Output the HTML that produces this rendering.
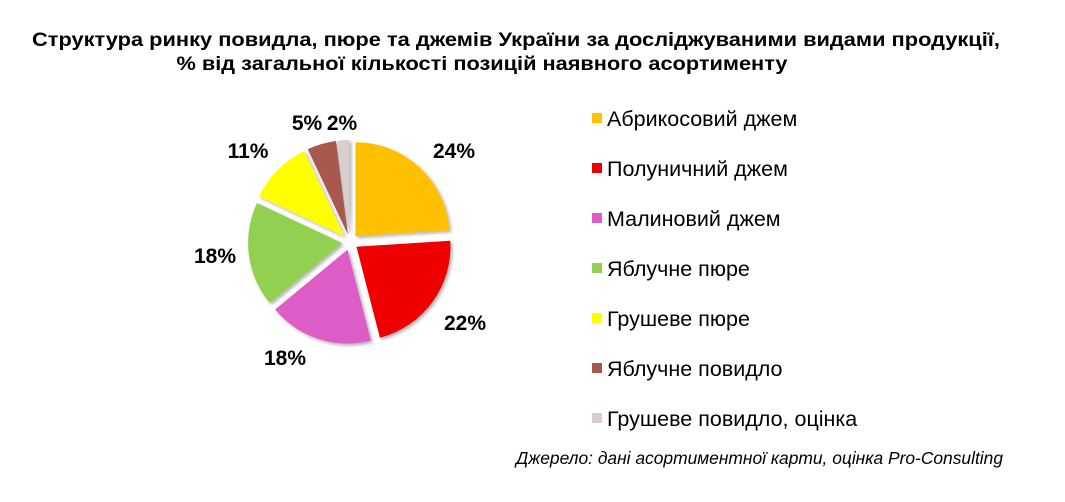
<!DOCTYPE html>
<html><head><meta charset="utf-8"><style>
html,body{margin:0;padding:0;background:#fff;}
svg{display:block;}
text{font-family:"Liberation Sans",Arial,sans-serif;}
</style></head><body>
<svg width="1065" height="502" viewBox="0 0 1065 502" xmlns="http://www.w3.org/2000/svg">
<defs>
<filter id="sh" x="-10%" y="-10%" width="130%" height="130%">
<feDropShadow dx="2" dy="2" stdDeviation="1.5" flood-color="#000" flood-opacity="0.3"/>
</filter>
</defs>
<text x="516" y="46" text-anchor="middle" font-size="19" font-weight="bold" textLength="968" lengthAdjust="spacingAndGlyphs">Структура ринку повидла, пюре та джемів України за досліджуваними видами продукції,</text>
<text x="482" y="70" text-anchor="middle" font-size="19" font-weight="bold" textLength="611" lengthAdjust="spacingAndGlyphs">% від загальної кількості позицій наявного асортименту</text>
<g filter="url(#sh)">
<path d="M355.5,236.2 L355.5,142.2 A94,94 0 0 1 449.3,230.3 Z" fill="#FFC000"/>
<path d="M356.5,246.7 L450.3,240.8 A94,94 0 0 1 379.9,337.7 Z" fill="#EE0000"/>
<path d="M347.5,249.6 L370.9,340.6 A94,94 0 0 1 275.1,309.5 Z" fill="#DD5CC6"/>
<path d="M342.1,243 L269.7,302.9 A94,94 0 0 1 257,203 Z" fill="#92D050"/>
<path d="M344.3,236.3 L259.2,196.3 A94,94 0 0 1 304.3,151.2 Z" fill="#FFFF00"/>
<path d="M347.8,234.3 L307.8,149.2 A94,94 0 0 1 336,141 Z" fill="#A9584E"/>
<path d="M349.5,234 L337.7,140.7 A94,94 0 0 1 349.5,140 Z" fill="#D9CDCD"/>
</g>
<g font-size="21" font-weight="bold" text-anchor="middle" fill="#000">
<text x="454" y="158">24%</text>
<text x="465" y="330">22%</text>
<text x="285" y="365">18%</text>
<text x="215" y="263">18%</text>
<text x="248" y="158">11%</text>
<text x="307" y="130">5%</text>
<text x="342" y="130">2%</text>
</g>
<g font-size="21.5" fill="#000">
<rect x="592" y="113" width="10" height="10" fill="#FFC000"/><text x="607" y="126">Абрикосовий джем</text>
<rect x="592" y="163" width="10" height="10" fill="#EE0000"/><text x="607" y="176">Полуничний джем</text>
<rect x="592" y="213" width="10" height="10" fill="#DD5CC6"/><text x="607" y="226">Малиновий джем</text>
<rect x="592" y="263" width="10" height="10" fill="#92D050"/><text x="607" y="276">Яблучне пюре</text>
<rect x="592" y="313" width="10" height="10" fill="#FFFF00"/><text x="607" y="326">Грушеве пюре</text>
<rect x="592" y="363" width="10" height="10" fill="#A9584E"/><text x="607" y="376">Яблучне повидло</text>
<rect x="592" y="413" width="10" height="10" fill="#D9CDCD"/><text x="607" y="426">Грушеве повидло, оцінка</text>
</g>
<text x="1003" y="464" text-anchor="end" font-size="17.4" font-style="italic">Джерело: дані асортиментної карти, оцінка Pro-Consulting</text>
</svg>
</body></html>
